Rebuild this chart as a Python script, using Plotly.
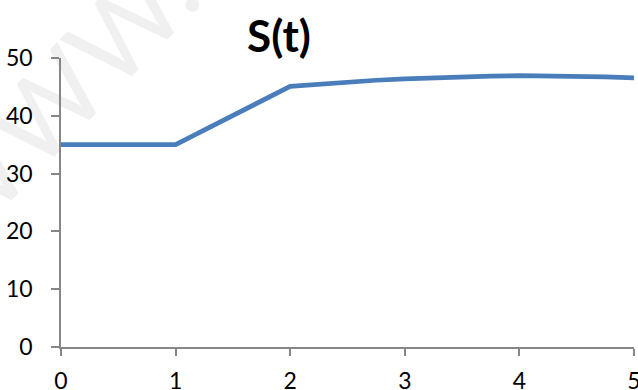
import plotly.graph_objects as go

# S(t) sampled over t in [0, 5]
t_values = [0, 0.5, 1.0, 2.0, 2.25, 2.5, 2.75, 3.0, 3.25, 3.5, 3.75, 4.0, 4.25, 4.5, 4.75, 5.0]
s_values = [35, 35, 35, 45.1, 45.5, 45.85, 46.15, 46.4, 46.6, 46.75, 46.85, 46.95, 46.95, 46.9, 46.75, 46.55]

x_ticks = [0, 1, 2, 3, 4, 5]
y_ticks = [0, 10, 20, 30, 40, 50]

W, H = 638, 390
ML, MR, MT, MB = 61, 4, 58, 43

axis_gray = "#868686"
font_family = "Lato, 'Open Sans', sans-serif"


def px_to_paper(px, py):
    """Convert page pixels to paper coordinates of the plot area."""
    return (px - ML) / (W - ML - MR), (H - MB - py) / (H - MT - MB)


fig = go.Figure()
fig.add_trace(go.Scatter(
    x=t_values, y=s_values, mode="lines",
    line=dict(color="#4A7EBB", width=4.7),
    cliponaxis=False, showlegend=False, hoverinfo="skip",
))

# faint diagonal watermark, kept beneath the axes and the curve
wx0, wy0 = px_to_paper(-50, 300)
wx1, wy1 = px_to_paper(250, -10)
fig.add_shape(
    type="line", xref="paper", yref="paper", layer="below",
    x0=wx0, y0=wy0, x1=wx1, y1=wy1,
    line=dict(width=0, color="rgba(0,0,0,0)"),
    label=dict(text="WWW.", textposition="middle",
               font=dict(size=108, family=font_family, color="#f0f0f0")),
)

fig.update_layout(
    width=W, height=H,
    margin=dict(l=ML, r=MR, t=MT, b=MB, pad=0),
    paper_bgcolor="white", plot_bgcolor="rgba(0,0,0,0)",
    font=dict(family=font_family, color="#000000", size=23),
    title=dict(
        text="<b>S(t)</b>", x=279 / W, xref="container",
        y=1 - 37 / H, yref="container", xanchor="center", yanchor="middle",
        font=dict(size=44, family=font_family, color="#000000"),
    ),
    xaxis=dict(
        range=[0, 5], tickvals=x_ticks, ticktext=[str(v) for v in x_ticks],
        tickfont=dict(size=23, family=font_family, color="#000000"),
        showgrid=False, zeroline=False, showline=True, linecolor=axis_gray, linewidth=1.5,
        ticks="outside", ticklen=7, tickcolor=axis_gray, tickwidth=1.5,
        ticklabelstandoff=6, ticklabeloverflow="allow",
        automargin=False, fixedrange=True,
    ),
    yaxis=dict(
        range=[0, 50], tickvals=y_ticks, ticktext=[str(v) for v in y_ticks],
        tickfont=dict(size=23, family=font_family, color="#000000"),
        showgrid=False, zeroline=False, showline=True, linecolor=axis_gray, linewidth=1.5,
        ticks="outside", ticklen=8, tickcolor=axis_gray, tickwidth=1.5,
        ticklabelstandoff=14, ticklabeloverflow="allow",
        automargin=False, fixedrange=True,
    ),
)

fig.write_html("out.html", config={"displayModeBar": False})
